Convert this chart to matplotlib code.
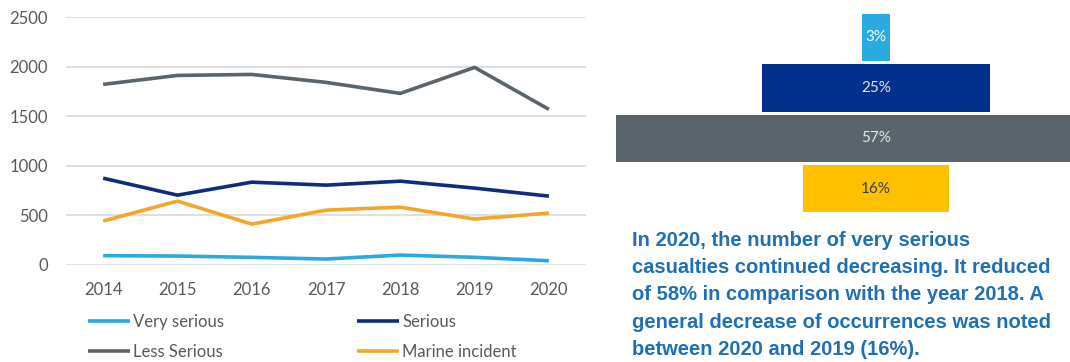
import matplotlib.pyplot as plt

#%% Data
years = ['2014', '2015', '2016', '2017', '2018', '2019', '2020']
very_serious = [94, 90, 77, 60, 100, 77, 43]
serious = [875, 704, 835, 805, 845, 775, 694]
less_serious = [1821, 1911, 1921, 1841, 1730, 1992, 1569]
marine_incident = [443, 644, 412, 553, 583, 463, 523]

share_labels = ['3%', '25%', '57%', '16%']
share_values = [3, 25, 57, 16]

note = ("In 2020, the number of very serious\n"
        "casualties continued decreasing. It reduced\n"
        "of 58% in comparison with the year 2018. A\n"
        "general decrease of occurrences was noted\n"
        "between 2020 and 2019 (16%).")

c_very = '#2AAAE1'
c_serious = '#0E2C7E'
c_less = '#5A646B'
c_marine = '#F3A629'
funnel_colors = ['#2AAAE1', '#00308C', '#5A646B', '#FFC000']
label_colors = ['white', '#E6E6E6', '#E6E6E6', '#3A3A3A']

plt.rcParams['font.family'] = ['Lato', 'DejaVu Sans']

fig = plt.figure(figsize=(10.70, 3.62), dpi=100)

#%% Line chart
ax = fig.add_axes([0.0617, 0.268, 0.486, 0.685])
x = range(len(years))
l1, = ax.plot(x, very_serious, color=c_very, lw=2.6, solid_capstyle='butt')
l2, = ax.plot(x, serious, color=c_serious, lw=2.6, solid_capstyle='butt')
l3, = ax.plot(x, less_serious, color=c_less, lw=2.6, solid_capstyle='butt')
l4, = ax.plot(x, marine_incident, color=c_marine, lw=2.6, solid_capstyle='butt')
ax.set_xlim(-0.5, len(years) - 0.5)
ax.set_ylim(0, 2500)
ax.set_yticks(range(0, 2501, 500))
ax.set_xticks(list(x))
ax.set_xticklabels(years)
ax.grid(axis='y', color='#D9D9D9', lw=1.2)
ax.set_axisbelow(True)
for s in ax.spines.values():
    s.set_visible(False)
ax.tick_params(length=0, labelsize=12, labelcolor='#595959')
ax.tick_params(axis='y', pad=13)
ax.tick_params(axis='x', pad=12)

leg = ax.legend([l1, l3, l2, l4],
                ['Very serious', 'Less Serious', 'Serious', 'Marine incident'],
                ncol=2, frameon=False, fontsize=12, handlelength=2.5,
                handletextpad=0.2, columnspacing=8.0, labelspacing=0.85,
                borderpad=0, borderaxespad=0,
                loc='upper left', bbox_to_anchor=(0.042, -0.197))
for t in leg.get_texts():
    t.set_color('#595959')

#%% Funnel of shares
fx = fig.add_axes([0.5607, 0.4088, 0.4393, 0.558])
for i, (v, lab) in enumerate(zip(share_values, share_labels)):
    fx.barh(i, v, left=-v / 2, height=0.94, color=funnel_colors[i])
    fx.text(0, i, lab, ha='center', va='center', fontsize=11,
            color=label_colors[i])
fx.set_xlim(-30.3, 21.3)
fx.set_ylim(3.5, -0.5)
fx.axis('off')

#%% Note
fig.text(0.5907, 1 - 231 / 362, note, ha='left', va='top', fontsize=14.5,
         fontweight='bold', color='#1F6FB5', linespacing=1.55,
         family=['Liberation Sans', 'DejaVu Sans'])

fig.savefig('out.png', dpi=100)
